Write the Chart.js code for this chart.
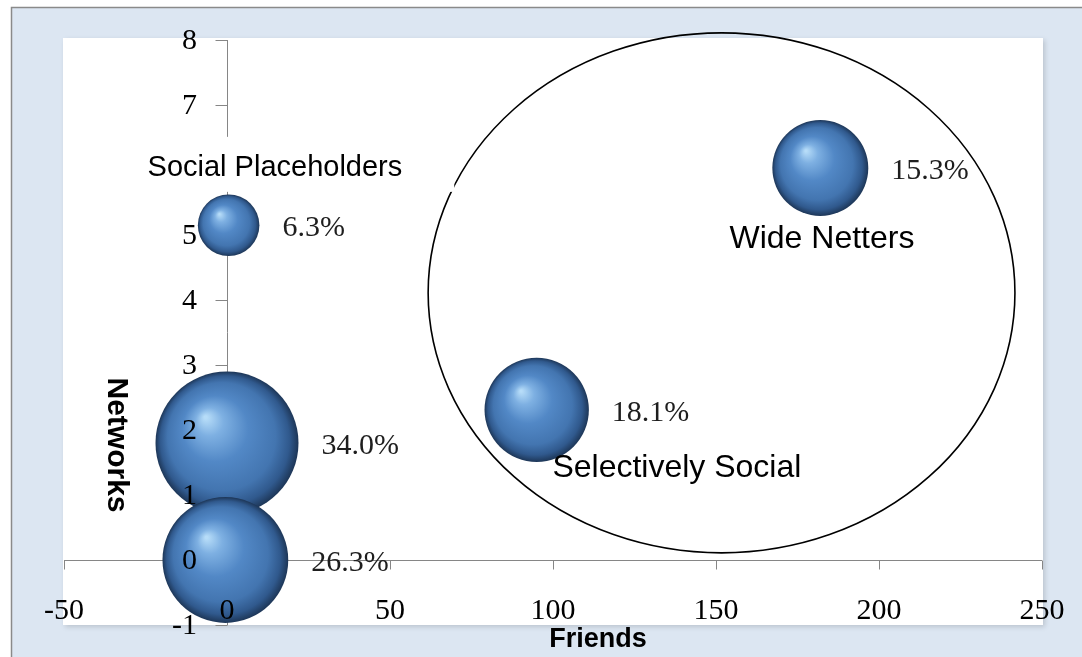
<!DOCTYPE html>
<html>
<head>
<meta charset="utf-8">
<title>Friends vs Networks</title>
<script src="https://cdn.jsdelivr.net/npm/chart.js@4/dist/chart.umd.min.js"></script>
<style>
  html, body { margin: 0; padding: 0; background: #fff; }
  #wrap { position: relative; width: 1082px; height: 657px; }
</style>
</head>
<body>
<div id="wrap"><canvas id="chart"></canvas></div>
<script>
// segment bubbles: x = friends, y = networks, area ~ share of users
// (largest first so the smaller spheres sit on top, like Excel)
const FRIENDS  = [0, -0.5, 95, 182, 0.5];
const NETWORKS = [1.8, 0, 2.31, 6.03, 5.15];
const SHARES   = [34.0, 26.3, 18.1, 15.3, 6.3];

const X_TICKS = [-50, 0, 50, 100, 150, 200, 250];
const Y_TICKS = [-1, 0, 1, 2, 3, 4, 5, 6, 7, 8];

// segment captions: text, anchor in data units (x centre, baseline y), font px
const CAPTIONS = [
  { text: 'Social Placeholders', x: 14.7,  y: 5.91, size: 29, boxed: true },
  { text: 'Wide Netters',        x: 182.5, y: 4.8,  size: 32 },
  { text: 'Selectively Social',  x: 138,   y: 1.27, size: 32 },
];

// ellipse round the "active" segments, in data units
const CLUSTER = { x: 151.7, y: 4.11, rx: 90, ry: 4.0 };

const R_MAX = 71.5;                       // px radius of the biggest bubble
const maxShare = Math.max(...SHARES);
const points = SHARES.map((s, i) => ({
  x: FRIENDS[i],
  y: NETWORKS[i],
  r: R_MAX * Math.sqrt(s / maxShare),     // Excel scales bubble area
}));

const AXIS_CLR = '#868686';
const NUM_FONT = '30px "Liberation Serif", "DejaVu Serif", serif';
const SANS = '"Liberation Sans", Arial, sans-serif';

function sphereFill(ctx) {
  const chart = ctx.chart;
  const { x: xs, y: ys } = chart.scales;
  if (!xs || !ys || !ctx.raw) return '#4f81bd';
  const px = xs.getPixelForValue(ctx.raw.x);
  const py = ys.getPixelForValue(ctx.raw.y);
  const r = ctx.raw.r;
  // scales have no pixel range yet while the layout is being measured
  if (!Number.isFinite(px) || !Number.isFinite(py)) return '#4f81bd';
  const g = chart.ctx.createRadialGradient(px - r * 0.3, py - r * 0.36, r * 0.02, px, py, r);
  g.addColorStop(0,    '#b6dcf8');
  g.addColorStop(0.18, '#7eb0e2');
  g.addColorStop(0.45, '#5288c6');
  g.addColorStop(0.75, '#4375b0');
  g.addColorStop(0.9,  '#30598d');
  g.addColorStop(1,    '#1d3657');
  return g;
}

// chart frame: light blue panel with grey edge, white plot area with soft shadow
const framePlugin = {
  id: 'frame',
  beforeDraw(chart) {
    const c = chart.ctx, a = chart.chartArea;
    c.save();
    c.fillStyle = '#ffffff';
    c.fillRect(0, 0, chart.width, chart.height);
    c.fillStyle = '#dce6f2';
    c.fillRect(11, 7, chart.width - 11, chart.height - 7);
    c.strokeStyle = '#8a8a8a';
    c.lineWidth = 1.5;
    c.beginPath();
    c.moveTo(11.5, chart.height);
    c.lineTo(11.5, 7.5);
    c.lineTo(chart.width, 7.5);
    c.stroke();
    c.shadowColor = 'rgba(0,0,0,0.15)';
    c.shadowBlur = 5;
    c.shadowOffsetX = 2;
    c.shadowOffsetY = 2;
    c.fillStyle = '#ffffff';
    c.fillRect(a.left - 1, a.top - 2, a.right - a.left + 2, a.bottom - a.top + 2);
    c.restore();
  },
  // axes cross at (0, 0); lines sit underneath the spheres
  beforeDatasetsDraw(chart) {
    const c = chart.ctx, a = chart.chartArea;
    const { x: xs, y: ys } = chart.scales;
    const x0 = Math.round(xs.getPixelForValue(0)) + 0.5;
    const y0 = Math.round(ys.getPixelForValue(0)) + 0.5;
    c.save();
    c.strokeStyle = AXIS_CLR;
    c.lineWidth = 1;
    c.beginPath();
    c.moveTo(x0, a.top);
    c.lineTo(x0, a.bottom);
    Y_TICKS.forEach(v => {
      const y = Math.round(ys.getPixelForValue(v)) + 0.5;
      c.moveTo(x0 - 12, y);
      c.lineTo(x0, y);
    });
    c.moveTo(a.left, y0);
    c.lineTo(a.right, y0);
    X_TICKS.forEach(v => {
      const x = Math.round(xs.getPixelForValue(v)) + 0.5;
      c.moveTo(x, y0);
      c.lineTo(x, y0 + 9);
    });
    c.stroke();
    c.restore();
  },
  afterDatasetsDraw(chart) {
    const c = chart.ctx, a = chart.chartArea;
    const { x: xs, y: ys } = chart.scales;
    c.save();

    // cluster ellipse
    const ex = xs.getPixelForValue(CLUSTER.x), ey = ys.getPixelForValue(CLUSTER.y);
    const erx = xs.getPixelForValue(CLUSTER.x + CLUSTER.rx) - ex;
    const ery = ey - ys.getPixelForValue(CLUSTER.y + CLUSTER.ry);
    c.strokeStyle = '#000';
    c.lineWidth = 1.6;
    c.beginPath();
    c.ellipse(ex, ey, erx, ery, 0, 0, Math.PI * 2);
    c.stroke();

    // tick labels, drawn over the spheres
    c.font = NUM_FONT;
    c.textBaseline = 'alphabetic';
    c.fillStyle = '#000';
    const x0 = xs.getPixelForValue(0);
    c.textAlign = 'right';
    Y_TICKS.forEach(v => c.fillText(String(v), x0 - 30, ys.getPixelForValue(v) + 9));
    c.textAlign = 'center';
    X_TICKS.forEach(v => c.fillText(String(v), xs.getPixelForValue(v), a.bottom - 6));

    // segment captions (the boxed one hides the axis behind it)
    CAPTIONS.forEach(cap => {
      const x = xs.getPixelForValue(cap.x);
      const y = ys.getPixelForValue(cap.y);
      c.font = `${cap.size}px ${SANS}`;
      if (cap.boxed) {
        const w = c.measureText(cap.text).width;
        c.fillStyle = '#fff';
        c.fillRect(x - w / 2 - 52, y - 39, w + 104, 55);
      }
      c.fillStyle = '#000';
      c.fillText(cap.text, x, y);
    });

    // share labels to the right of each sphere
    const meta = chart.getDatasetMeta(0);
    c.font = NUM_FONT;
    c.textAlign = 'left';
    c.fillStyle = '#1e1e1e';
    meta.data.forEach((el, i) => {
      c.fillText(SHARES[i].toFixed(1) + '%', el.x + points[i].r + 23, el.y + 11);
    });

    // axis titles
    c.fillStyle = '#000';
    c.textAlign = 'center';
    c.font = `bold 27px ${SANS}`;
    c.fillText('Friends', (a.left + a.right) / 2 + 45, a.bottom + 22);
    c.translate(116, 445);
    c.rotate(Math.PI / 2);
    c.font = `bold 30px ${SANS}`;
    c.textBaseline = 'middle';
    c.fillText('Networks', 0, 0);
    c.restore();
  },
};

new Chart(document.getElementById('chart'), {
  type: 'bubble',
  data: {
    datasets: [{
      label: 'Segments',
      data: points,
      backgroundColor: sphereFill,
      borderWidth: 0,
      hoverBorderWidth: 0,
      clip: false,
    }],
  },
  options: {
    responsive: true,
    maintainAspectRatio: false,
    animation: false,
    events: [],
    layout: { autoPadding: false, padding: { left: 64, top: 40, right: 40, bottom: 32 } },
    plugins: { legend: { display: false }, tooltip: { enabled: false } },
    scales: {
      x: { type: 'linear', min: -50, max: 250, display: false },
      y: { type: 'linear', min: -1, max: 8, display: false },
    },
  },
  plugins: [framePlugin],
});
</script>
</body>
</html>
